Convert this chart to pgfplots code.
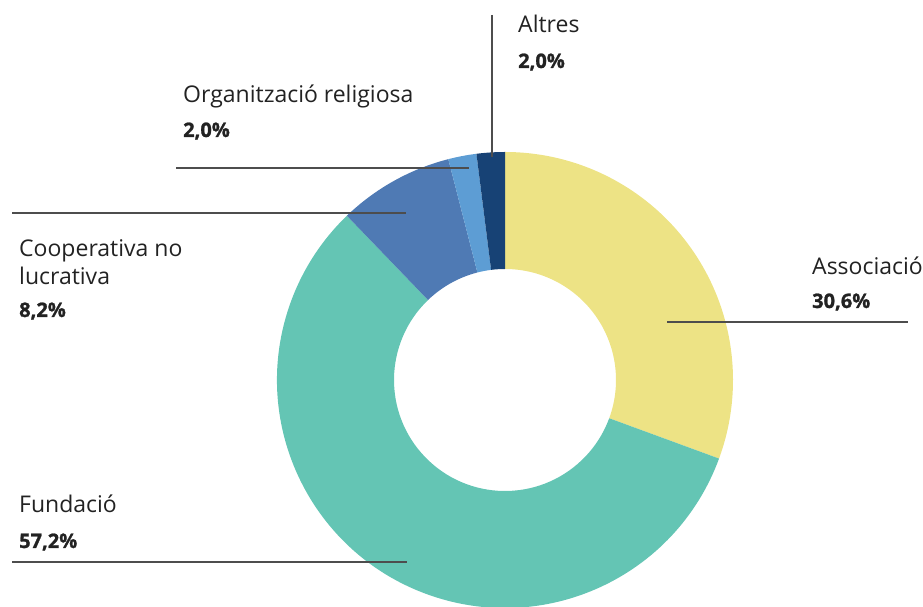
\documentclass[border=0pt]{standalone}
\usepackage{pgfplots}
\usepackage{pgfplotstable}
\pgfplotsset{compat=1.18}
\usepackage{fontspec}
\setmainfont{Open Sans}
\newfontfamily\valfont{Open Sans}[BoldFeatures={FakeBold=1.2}]

\definecolor{slice0}{HTML}{EDE385}
\definecolor{slice1}{HTML}{64C5B4}
\definecolor{slice2}{HTML}{4F7AB4}
\definecolor{slice3}{HTML}{5D9DD4}
\definecolor{slice4}{HTML}{174275}
\definecolor{txt}{HTML}{222222}
\definecolor{leader}{HTML}{4D4D4D}

% share of each legal form, clockwise from the top
\pgfplotstableread{
pct
30.6
57.2
8.2
2.0
2.0
}\slices

\def\cx{505}\def\cy{227}\def\ro{228}\def\ri{111}

\newcommand\name[1]{{\fontsize{23}{28}\selectfont\color{txt}#1}}
\newcommand\val[1]{{\valfont\fontsize{20}{24}\selectfont\bfseries\color{txt}#1}}

\begin{document}
\begin{tikzpicture}
\gdef\cum{90}
\pgfplotsforeachungrouped \i in {0,...,4}{%
  \pgfplotstablegetelem{\i}{pct}\of\slices
  \pgfmathsetmacro\endang{\cum-3.6*\pgfplotsretval}%
  \expandafter\xdef\csname sa\i\endcsname{\cum}%
  \expandafter\xdef\csname ea\i\endcsname{\endang}%
  \xdef\cum{\endang}%
}
\begin{axis}[
  x=1pt, y=1pt,
  xmin=0, xmax=923, ymin=0, ymax=607,
  hide axis,
  clip=true,
]
\pgfplotsinvokeforeach{0,...,4}{
  \fill[slice#1]
    (axis cs:{\cx+\ro*cos(\csname sa#1\endcsname)},{\cy+\ro*sin(\csname sa#1\endcsname)})
    arc[start angle=\csname sa#1\endcsname, end angle=\csname ea#1\endcsname, radius=\ro pt]
    -- (axis cs:{\cx+\ri*cos(\csname ea#1\endcsname)},{\cy+\ri*sin(\csname ea#1\endcsname)})
    arc[start angle=\csname ea#1\endcsname, end angle=\csname sa#1\endcsname, radius=\ri pt]
    -- cycle;
}
% leader lines
\draw[leader, line width=1.2pt] (axis cs:492,592) -- (axis cs:492,450);
\draw[leader, line width=1.2pt] (axis cs:176,439) -- (axis cs:469,439);
\draw[leader, line width=1.2pt] (axis cs:12,394) -- (axis cs:406,394);
\draw[leader, line width=1.2pt] (axis cs:667,285) -- (axis cs:908,285);
\draw[leader, line width=1.2pt] (axis cs:12,45) -- (axis cs:407,45);
% labels
\node[anchor=base west, inner sep=0pt] at (axis cs:518,574) {\name{Altres}};
\node[anchor=base west, inner sep=0pt] at (axis cs:518,539) {\val{2,0\%}};
\node[anchor=base west, inner sep=0pt] at (axis cs:183,504) {\name{Organització religiosa}};
\node[anchor=base west, inner sep=0pt] at (axis cs:183,470) {\val{2,0\%}};
\node[anchor=base west, inner sep=0pt] at (axis cs:19,350) {\name{Cooperativa no}};
\node[anchor=base west, inner sep=0pt] at (axis cs:19,322) {\name{lucrativa}};
\node[anchor=base west, inner sep=0pt] at (axis cs:19,290) {\val{8,2\%}};
\node[anchor=base west, inner sep=0pt] at (axis cs:812,332) {\name{Associació}};
\node[anchor=base west, inner sep=0pt] at (axis cs:812,299) {\val{30,6\%}};
\node[anchor=base west, inner sep=0pt] at (axis cs:19,94) {\name{Fundació}};
\node[anchor=base west, inner sep=0pt] at (axis cs:19,59) {\val{57,2\%}};
\end{axis}
\pgfresetboundingbox
\path (current axis.south west) rectangle (current axis.north east);
\end{tikzpicture}
\end{document}
